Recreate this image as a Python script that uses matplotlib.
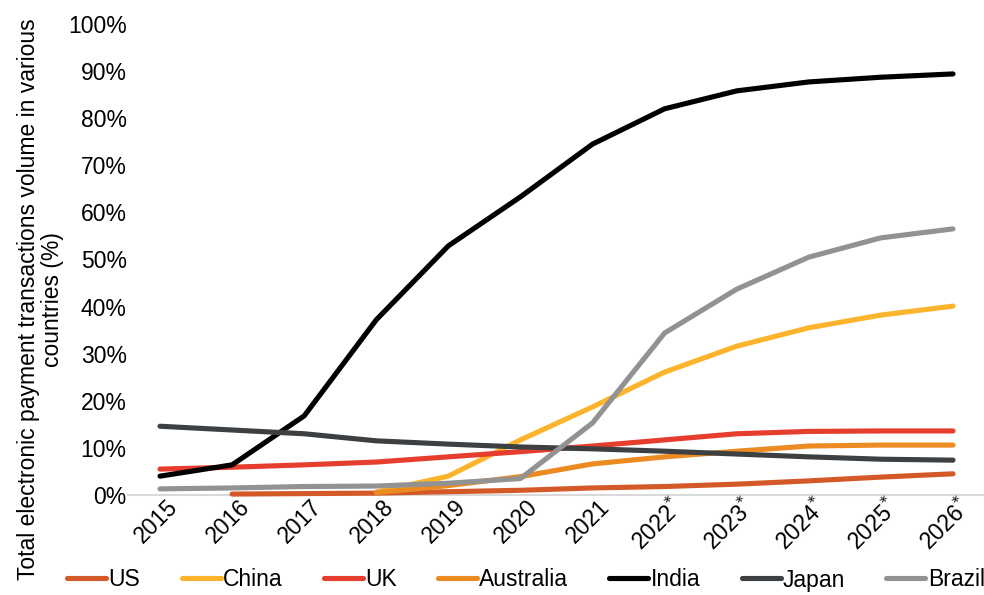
import numpy as np
import matplotlib
matplotlib.use('Agg')
import matplotlib.pyplot as plt
from matplotlib.transforms import ScaledTranslation

plt.rcParams['font.family'] = ['Liberation Sans', 'DejaVu Sans']

years = ['2015', '2016', '2017', '2018', '2019', '2020', '2021',
         '2022*', '2023*', '2024*', '2025*', '2026*']

# share of electronic payment transactions volume (%), None = no data
us        = [None, 0.2, 0.3, 0.4, 0.7, 1.0, 1.5, 1.8, 2.3, 3.0, 3.8, 4.5]
china     = [None, None, None, 0.6, 4.0, 11.7, 18.7, 26.1, 31.6, 35.5, 38.2, 40.1]
uk        = [5.5, 5.9, 6.4, 7.0, 8.1, 9.2, 10.4, 11.7, 13.0, 13.5, 13.6, 13.6]
australia = [None, None, None, 0.5, 2.0, 3.9, 6.6, 8.1, 9.3, 10.4, 10.6, 10.6]
india     = [4.0, 6.4, 16.8, 37.2, 52.9, 63.3, 74.5, 82.0, 85.8, 87.7, 88.7, 89.4]
japan     = [14.6, 13.8, 13.0, 11.5, 10.8, 10.2, 9.8, 9.3, 8.7, 8.1, 7.6, 7.4]
brazil    = [1.3, 1.5, 1.8, 1.9, 2.5, 3.5, 15.3, 34.4, 43.7, 50.5, 54.6, 56.5]

series = [
    ('US', us, '#D35A28'),
    ('China', china, '#FDB42D'),
    ('UK', uk, '#E53D2E'),
    ('Australia', australia, '#EC8B22'),
    ('India', india, '#000000'),
    ('Japan', japan, '#3D4043'),
    ('Brazil', brazil, '#929292'),
]

FS = 16.5

fig = plt.figure(figsize=(9.84, 5.95), dpi=100)
ax = fig.add_axes([128 / 984, 100 / 595, 856 / 984, 471 / 595])

x = np.arange(len(years))
for name, vals, col in series:
    y = np.array([np.nan if v is None else v for v in vals], dtype=float)
    ax.plot(x, y, color=col, lw=3.7, label=name, solid_capstyle='round',
            solid_joinstyle='round', clip_on=False)

ax.set_xlim(-0.444, 11.43)
ax.set_ylim(0, 100)
ax.set_yticks(np.arange(0, 101, 10))
ax.set_yticklabels([f'{v}%' for v in range(0, 101, 10)], fontsize=FS)
ax.tick_params(axis='y', length=0, pad=1)

ax.set_xticks(x)
ax.set_xticklabels([y.replace('*', '$^{*}$') for y in years], fontsize=FS,
                   rotation=45, ha='right', va='center', rotation_mode='anchor')
ax.tick_params(axis='x', length=0, pad=6)
shift = ScaledTranslation(14 / 100, 0, fig.dpi_scale_trans)
for lbl in ax.get_xticklabels():
    lbl.set_transform(lbl.get_transform() + shift)

for s in ['top', 'right', 'left']:
    ax.spines[s].set_visible(False)
ax.spines['bottom'].set_color('#d9d9d9')
ax.spines['bottom'].set_linewidth(1.5)
ax.spines['bottom'].set_zorder(0)

fig.text(0.041, 0.497,
         'Total electronic payment transactions volume in various\ncountries (%)',
         rotation=90, ha='center', va='center', multialignment='center',
         fontsize=FS, linespacing=1.05)

fig.legend(loc='center', bbox_to_anchor=(526 / 984, 1 - 580 / 595), ncol=7,
           frameon=False, fontsize=FS, handlelength=1.7, handletextpad=0.1,
           columnspacing=1.8, borderaxespad=0)

fig.savefig('out.png', dpi=100)
